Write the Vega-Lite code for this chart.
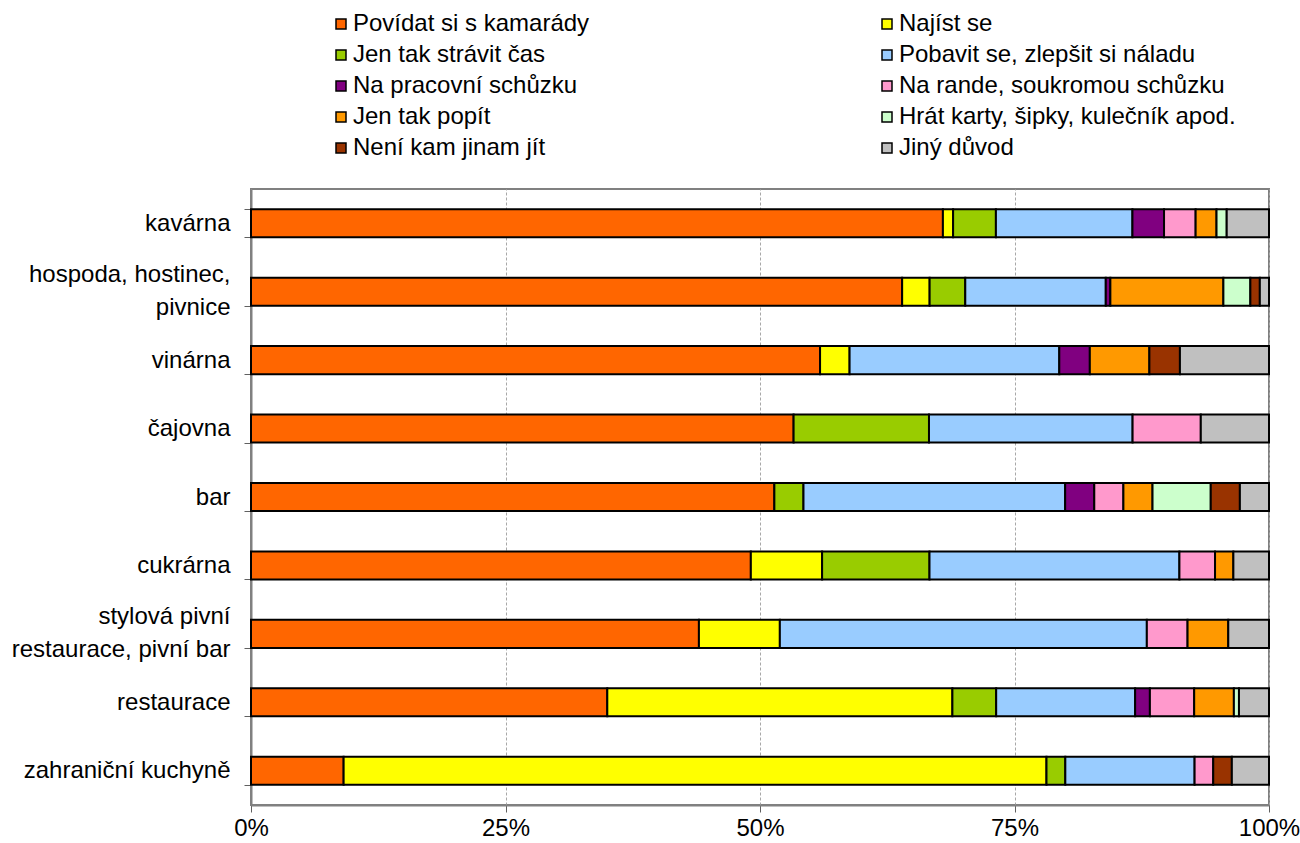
{
  "$schema": "https://vega.github.io/schema/vega-lite/v6.json",
  "width": 1018,
  "height": 616,
  "autosize": {"type": "none"},
  "padding": {"left": 251, "top": 189, "right": 31, "bottom": 38},
  "background": "white",
  "data": {"values": [
    {"misto": "kavárna", "duvod": "Povídat si s kamarády", "podil": 67.9},
    {"misto": "kavárna", "duvod": "Najíst se", "podil": 1.0},
    {"misto": "kavárna", "duvod": "Jen tak strávit čas", "podil": 4.2},
    {"misto": "kavárna", "duvod": "Pobavit se, zlepšit si náladu", "podil": 13.4},
    {"misto": "kavárna", "duvod": "Na pracovní schůzku", "podil": 3.1},
    {"misto": "kavárna", "duvod": "Na rande, soukromou schůzku", "podil": 3.1},
    {"misto": "kavárna", "duvod": "Jen tak popít", "podil": 2.05},
    {"misto": "kavárna", "duvod": "Hrát karty, šipky, kulečník apod.", "podil": 1.0},
    {"misto": "kavárna", "duvod": "Jiný důvod", "podil": 4.15},

    {"misto": "hospoda, hostinec, pivnice", "duvod": "Povídat si s kamarády", "podil": 63.95},
    {"misto": "hospoda, hostinec, pivnice", "duvod": "Najíst se", "podil": 2.7},
    {"misto": "hospoda, hostinec, pivnice", "duvod": "Jen tak strávit čas", "podil": 3.5},
    {"misto": "hospoda, hostinec, pivnice", "duvod": "Pobavit se, zlepšit si náladu", "podil": 13.8},
    {"misto": "hospoda, hostinec, pivnice", "duvod": "Na pracovní schůzku", "podil": 0.45},
    {"misto": "hospoda, hostinec, pivnice", "duvod": "Jen tak popít", "podil": 11.1},
    {"misto": "hospoda, hostinec, pivnice", "duvod": "Hrát karty, šipky, kulečník apod.", "podil": 2.65},
    {"misto": "hospoda, hostinec, pivnice", "duvod": "Není kam jinam jít", "podil": 0.93},
    {"misto": "hospoda, hostinec, pivnice", "duvod": "Jiný důvod", "podil": 0.9},

    {"misto": "vinárna", "duvod": "Povídat si s kamarády", "podil": 55.9},
    {"misto": "vinárna", "duvod": "Najíst se", "podil": 2.9},
    {"misto": "vinárna", "duvod": "Pobavit se, zlepšit si náladu", "podil": 20.6},
    {"misto": "vinárna", "duvod": "Na pracovní schůzku", "podil": 3.0},
    {"misto": "vinárna", "duvod": "Jen tak popít", "podil": 5.85},
    {"misto": "vinárna", "duvod": "Není kam jinam jít", "podil": 3.0},
    {"misto": "vinárna", "duvod": "Jiný důvod", "podil": 8.75},

    {"misto": "čajovna", "duvod": "Povídat si s kamarády", "podil": 53.3},
    {"misto": "čajovna", "duvod": "Jen tak strávit čas", "podil": 13.3},
    {"misto": "čajovna", "duvod": "Pobavit se, zlepšit si náladu", "podil": 20.0},
    {"misto": "čajovna", "duvod": "Na rande, soukromou schůzku", "podil": 6.7},
    {"misto": "čajovna", "duvod": "Jiný důvod", "podil": 6.7},

    {"misto": "bar", "duvod": "Povídat si s kamarády", "podil": 51.4},
    {"misto": "bar", "duvod": "Jen tak strávit čas", "podil": 2.86},
    {"misto": "bar", "duvod": "Pobavit se, zlepšit si náladu", "podil": 25.7},
    {"misto": "bar", "duvod": "Na pracovní schůzku", "podil": 2.86},
    {"misto": "bar", "duvod": "Na rande, soukromou schůzku", "podil": 2.86},
    {"misto": "bar", "duvod": "Jen tak popít", "podil": 2.86},
    {"misto": "bar", "duvod": "Hrát karty, šipky, kulečník apod.", "podil": 5.72},
    {"misto": "bar", "duvod": "Není kam jinam jít", "podil": 2.86},
    {"misto": "bar", "duvod": "Jiný důvod", "podil": 2.86},

    {"misto": "cukrárna", "duvod": "Povídat si s kamarády", "podil": 49.1},
    {"misto": "cukrárna", "duvod": "Najíst se", "podil": 7.0},
    {"misto": "cukrárna", "duvod": "Jen tak strávit čas", "podil": 10.55},
    {"misto": "cukrárna", "duvod": "Pobavit se, zlepšit si náladu", "podil": 24.55},
    {"misto": "cukrárna", "duvod": "Na rande, soukromou schůzku", "podil": 3.5},
    {"misto": "cukrárna", "duvod": "Jen tak popít", "podil": 1.8},
    {"misto": "cukrárna", "duvod": "Jiný důvod", "podil": 3.5},

    {"misto": "stylová pivní restaurace, pivní bar", "duvod": "Povídat si s kamarády", "podil": 44.0},
    {"misto": "stylová pivní restaurace, pivní bar", "duvod": "Najíst se", "podil": 7.95},
    {"misto": "stylová pivní restaurace, pivní bar", "duvod": "Pobavit se, zlepšit si náladu", "podil": 36.05},
    {"misto": "stylová pivní restaurace, pivní bar", "duvod": "Na rande, soukromou schůzku", "podil": 4.0},
    {"misto": "stylová pivní restaurace, pivní bar", "duvod": "Jen tak popít", "podil": 4.0},
    {"misto": "stylová pivní restaurace, pivní bar", "duvod": "Jiný důvod", "podil": 4.0},

    {"misto": "restaurace", "duvod": "Povídat si s kamarády", "podil": 35.0},
    {"misto": "restaurace", "duvod": "Najíst se", "podil": 33.9},
    {"misto": "restaurace", "duvod": "Jen tak strávit čas", "podil": 4.3},
    {"misto": "restaurace", "duvod": "Pobavit se, zlepšit si náladu", "podil": 13.65},
    {"misto": "restaurace", "duvod": "Na pracovní schůzku", "podil": 1.45},
    {"misto": "restaurace", "duvod": "Na rande, soukromou schůzku", "podil": 4.35},
    {"misto": "restaurace", "duvod": "Jen tak popít", "podil": 3.9},
    {"misto": "restaurace", "duvod": "Hrát karty, šipky, kulečník apod.", "podil": 0.5},
    {"misto": "restaurace", "duvod": "Jiný důvod", "podil": 2.95},

    {"misto": "zahraniční kuchyně", "duvod": "Povídat si s kamarády", "podil": 9.1},
    {"misto": "zahraniční kuchyně", "duvod": "Najíst se", "podil": 69.05},
    {"misto": "zahraniční kuchyně", "duvod": "Jen tak strávit čas", "podil": 1.85},
    {"misto": "zahraniční kuchyně", "duvod": "Pobavit se, zlepšit si náladu", "podil": 12.7},
    {"misto": "zahraniční kuchyně", "duvod": "Na rande, soukromou schůzku", "podil": 1.83},
    {"misto": "zahraniční kuchyně", "duvod": "Není kam jinam jít", "podil": 1.83},
    {"misto": "zahraniční kuchyně", "duvod": "Jiný důvod", "podil": 3.65}
  ]},
  "transform": [
    {"calculate": "indexof(['Povídat si s kamarády','Najíst se','Jen tak strávit čas','Pobavit se, zlepšit si náladu','Na pracovní schůzku','Na rande, soukromou schůzku','Jen tak popít','Hrát karty, šipky, kulečník apod.','Není kam jinam jít','Jiný důvod'], datum.duvod)", "as": "poradi"}
  ],
  "mark": {"type": "bar", "stroke": "black", "strokeWidth": 2, "opacity": 1},
  "encoding": {
    "y": {
      "field": "misto",
      "type": "nominal",
      "sort": ["kavárna", "hospoda, hostinec, pivnice", "vinárna", "čajovna", "bar", "cukrárna", "stylová pivní restaurace, pivní bar", "restaurace", "zahraniční kuchyně"],
      "scale": {"paddingInner": 0.59, "paddingOuter": 0.295},
      "axis": {
        "title": null,
        "labelExpr": "datum.value == 'hospoda, hostinec, pivnice' ? ['hospoda, hostinec,', 'pivnice'] : datum.value == 'stylová pivní restaurace, pivní bar' ? ['stylová pivní', 'restaurace, pivní bar'] : datum.value",
        "labelBaseline": {"condition": {"test": "datum.value == 'hospoda, hostinec, pivnice' || datum.value == 'stylová pivní restaurace, pivní bar'", "value": "line-bottom"}, "value": "middle"},
        "tickBand": "extent",
        "tickSize": 7,
        "tickColor": "#606060",
        "domainColor": "#808080",
        "domainWidth": 2,
        "labelPadding": 14,
        "labelFont": "Liberation Sans",
        "labelFontSize": 24,
        "labelColor": "black",
        "labelLineHeight": 33,
        "labelLimit": 400,
        "grid": false
      }
    },
    "x": {
      "field": "podil",
      "type": "quantitative",
      "stack": "normalize",
      "scale": {"domain": [0, 1], "nice": false},
      "axis": {
        "title": null,
        "format": ".0%",
        "values": [0, 0.25, 0.5, 0.75, 1],
        "tickSize": 7,
        "tickColor": "#606060",
        "domainColor": "#808080",
        "domainWidth": 2,
        "labelPadding": 4,
        "labelFont": "Liberation Sans",
        "labelFontSize": 24,
        "labelColor": "black",
        "labelFlush": false,
        "grid": true,
        "gridColor": "#A8A8A8",
        "gridDash": [3, 2],
        "gridWidth": 1
      }
    },
    "color": {
      "field": "duvod",
      "type": "nominal",
      "scale": {
        "domain": ["Povídat si s kamarády", "Najíst se", "Jen tak strávit čas", "Pobavit se, zlepšit si náladu", "Na pracovní schůzku", "Na rande, soukromou schůzku", "Jen tak popít", "Hrát karty, šipky, kulečník apod.", "Není kam jinam jít", "Jiný důvod"],
        "range": ["#FF6600", "#FFFF00", "#99CC00", "#99CCFF", "#800080", "#FF99CC", "#FF9900", "#CCFFCC", "#993300", "#C0C0C0"]
      },
      "legend": {
        "title": null,
        "orient": "none",
        "direction": "horizontal",
        "legendX": 78,
        "legendY": -177,
        "padding": 0,
        "columns": 2,
        "columnPadding": 285,
        "rowPadding": 7,
        "symbolType": "square",
        "symbolSize": 100,
        "symbolStrokeColor": "black",
        "symbolStrokeWidth": 1.5,
        "labelFont": "Liberation Sans",
        "labelFontSize": 24,
        "labelColor": "black",
        "labelOffset": 0,
        "labelLimit": 500
      }
    },
    "order": {"field": "poradi", "type": "quantitative", "sort": "ascending"}
  },
  "config": {
    "view": {"stroke": "#808080", "strokeWidth": 2}
  }
}
